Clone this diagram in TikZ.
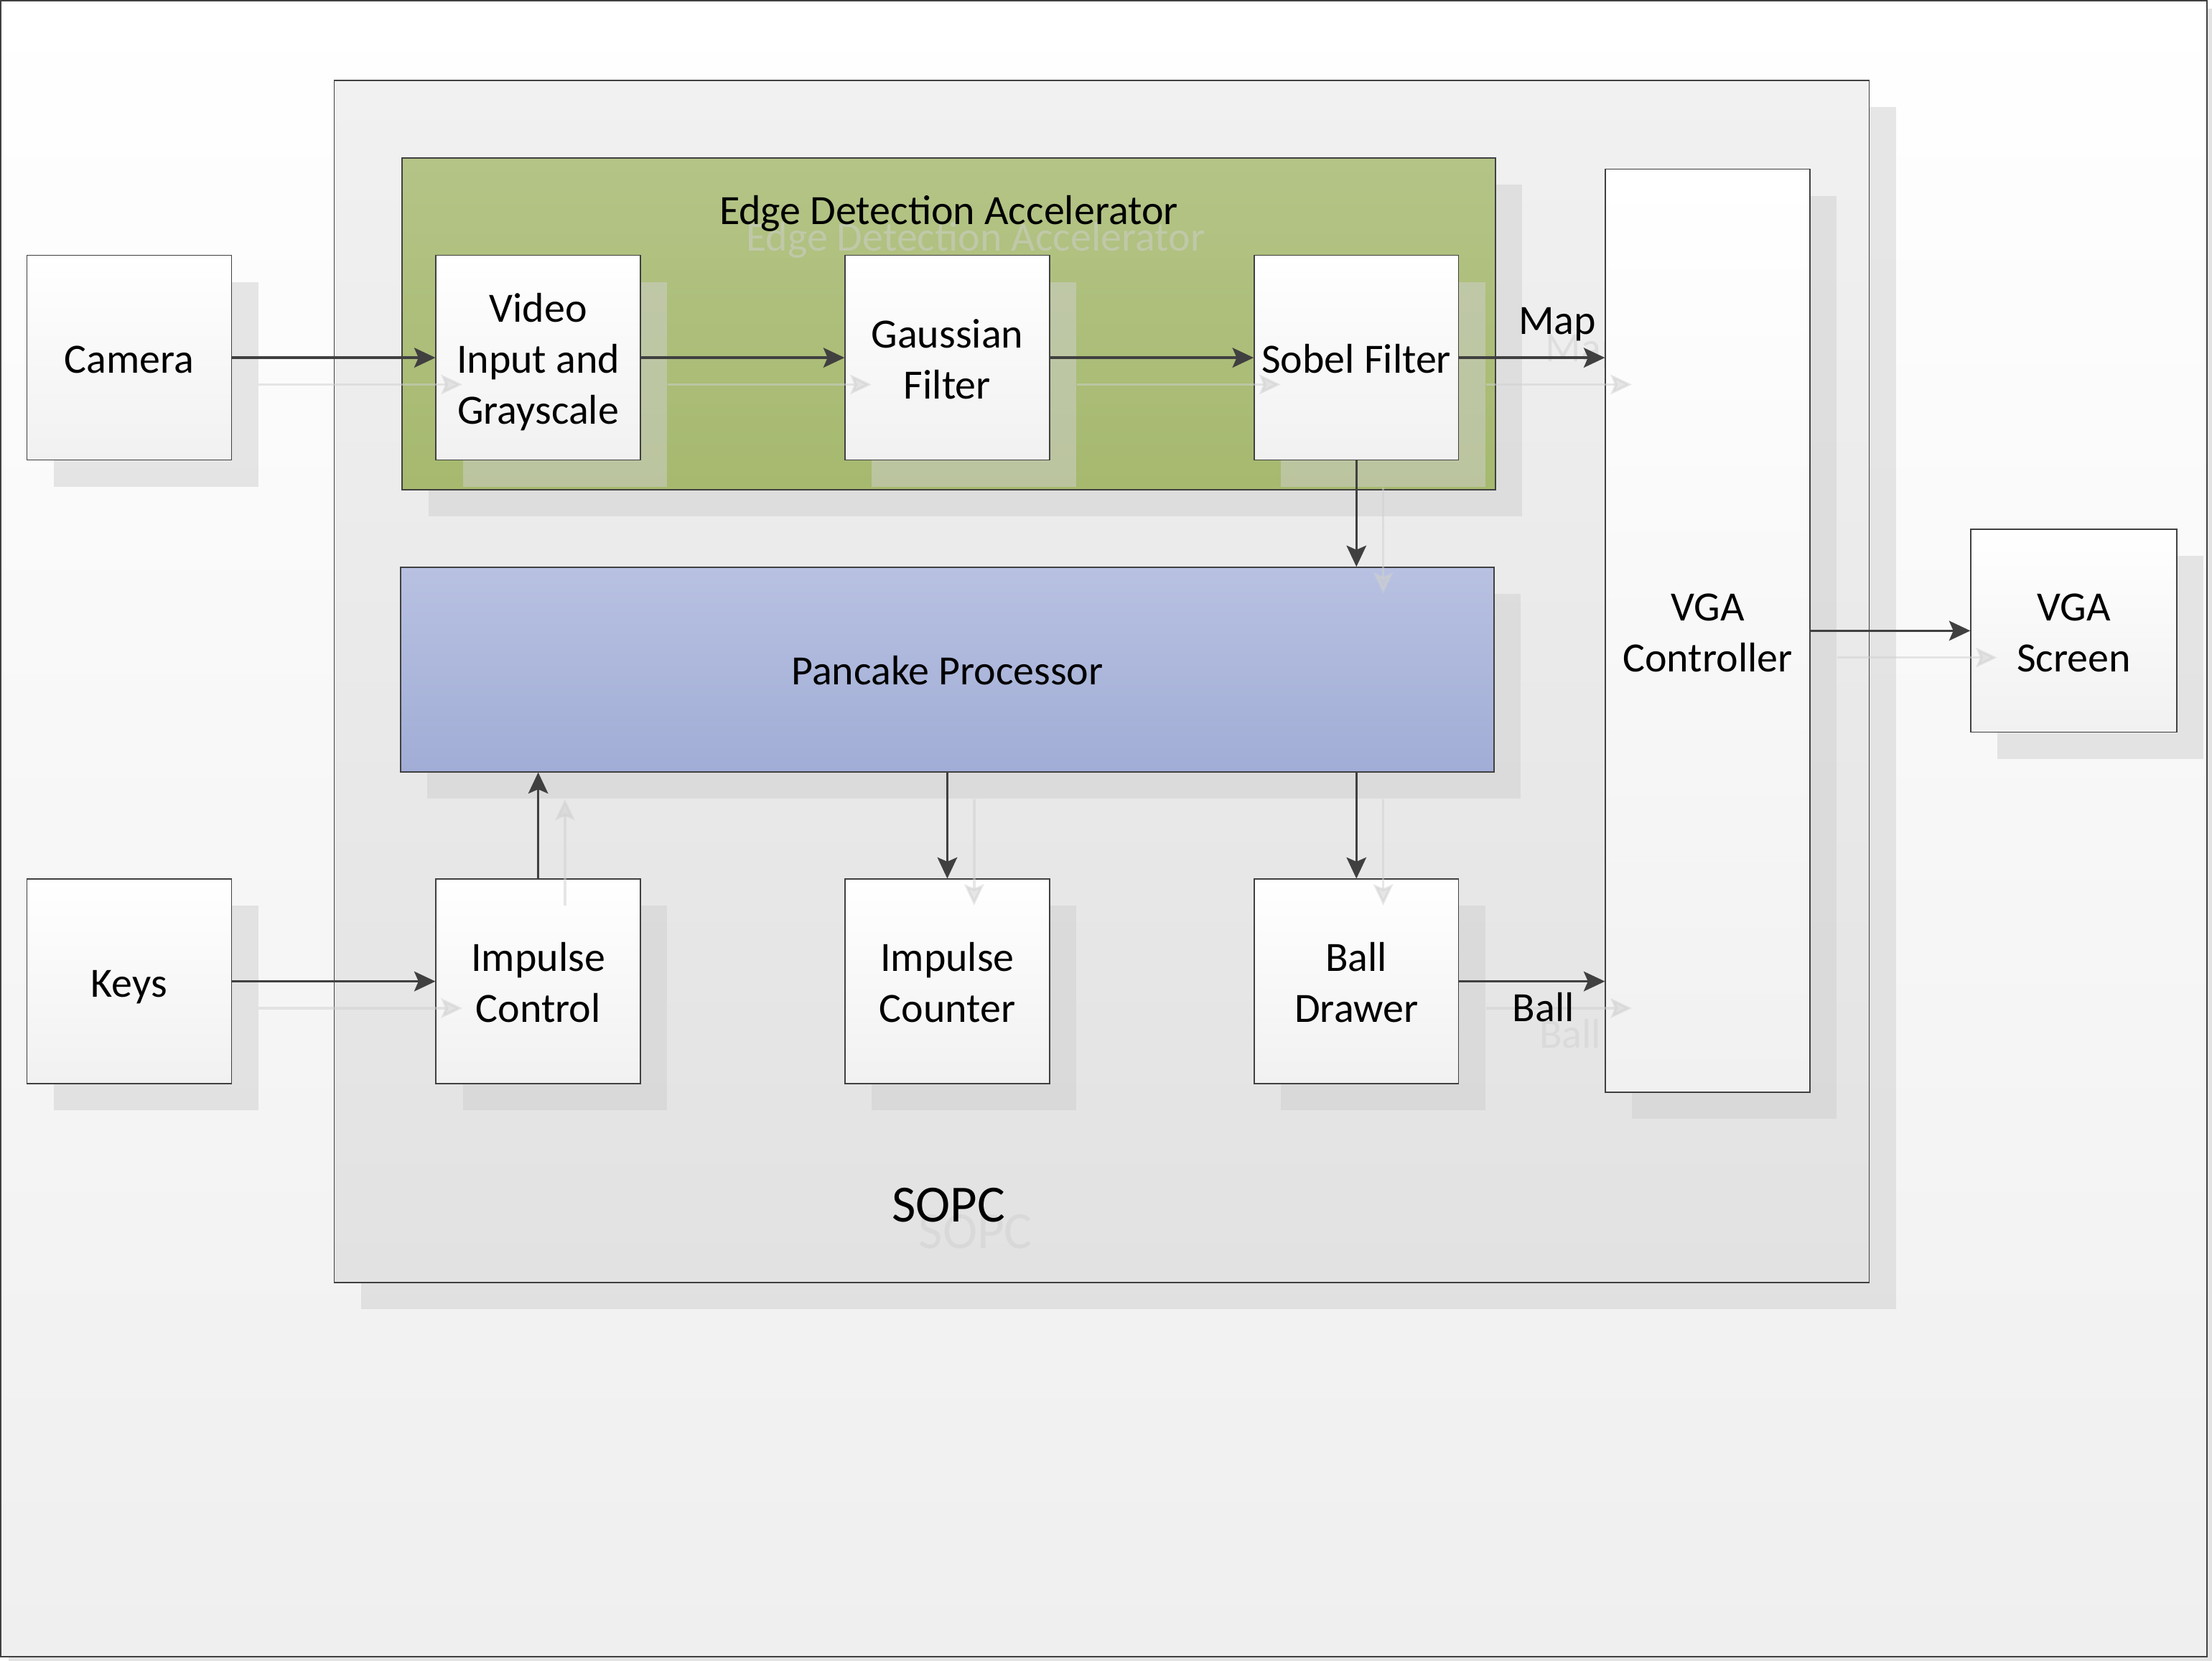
\documentclass[tikz,border=0pt]{standalone}
\usepackage{fontspec}
\setmainfont{Carlito}
\usetikzlibrary{arrows.meta, positioning, shadows}
\definecolor{edgegray}{HTML}{404040}
\definecolor{shadowgray}{HTML}{D0D0D0}
\definecolor{greentop}{HTML}{B4C487}
\definecolor{greenbot}{HTML}{A6B96E}
\definecolor{bluetop}{HTML}{B8C1E1}
\definecolor{bluebot}{HTML}{A1ADD6}
\definecolor{sopctop}{HTML}{F1F1F1}
\definecolor{sopcbot}{HTML}{E2E2E2}
\definecolor{boxbot}{HTML}{F1F1F1}
\definecolor{pagebot}{HTML}{EFEFEF}
\newcommand{\topstrut}{\rule{0pt}{29pt}}
\newcommand{\botstrut}{\rule[-7pt]{0pt}{7pt}}
\tikzstyle{vshadow} = [drop shadow={shadow xshift=19pt, shadow yshift=-19pt, fill=shadowgray, opacity=0.5}]
\tikzstyle{block} = [rectangle, minimum width=145pt, minimum height=145pt, inner sep=0pt, align=center, draw=edgegray, line width=0.7pt, top color=white, bottom color=boxbot, vshadow, font=\fontsize{29.5}{36}\selectfont, execute at begin node=\topstrut, execute at end node=\botstrut]
\tikzstyle{container} = [rectangle, inner sep=0pt, draw=edgegray, line width=0.7pt, vshadow]
\tikzstyle{lbl} = [inner sep=0pt, font=\fontsize{29.5}{36}\selectfont, execute at begin node=\topstrut, execute at end node=\botstrut]
\tikzstyle{ghosttext} = [text=shadowgray, text opacity=0.5, xshift=19pt, yshift=-19pt]
\tikzstyle{arrow} = [line width=1.8pt, draw=edgegray, -{Stealth[length=15pt, width=14pt, inset=3pt]}]
\tikzstyle{ghostarrow} = [arrow, draw=shadowgray, opacity=0.5]

\begin{document}
\begin{tikzpicture}[x=1pt, y=-1pt, node distance=290pt]
\useasboundingbox (0,0) rectangle (1568,1177);
% page
\fill [shadowgray!60] (6,6) rectangle (1568,1177);
\draw [draw=edgegray, line width=0.8pt, top color=white, bottom color=pagebot] (0.5,0.5) rectangle (1564.5,1174);

% containers
\node (sopc) [container, minimum width=1088pt, minimum height=852pt, top color=sopctop, bottom color=sopcbot] at (781,483) {};
\node (sopcghost) [lbl, ghosttext, font=\fontsize{37}{44}\selectfont] at (672.5,855) {SOPC};
\node (sopclabel) [lbl, font=\fontsize{37}{44}\selectfont] at (672.5,855) {SOPC};
\node (edge) [container, minimum width=775pt, minimum height=235pt, top color=greentop, bottom color=greenbot] at (672.5,229.5) {};
\node (edgeghost) [lbl, ghosttext] at (672.5,148) {Edge Detection Accelerator};
\node (edgelabel) [lbl] at (672.5,148) {Edge Detection Accelerator};

% blocks
\node (camera) [block] at (91.5,253.5) {Camera};
\node (video) [block, right of=camera] {\topstrut Video\\Input and\\Grayscale};
\node (gauss) [block, right of=video] {\topstrut Gaussian\\Filter};
\node (sobel) [block, right of=gauss] {Sobel Filter};
\node (keys) [block, below of=camera, yshift=-152pt] {Keys};
\node (impctrl) [block, right of=keys] {\topstrut Impulse\\Control};
\node (impcnt) [block, right of=impctrl] {\topstrut Impulse\\Counter};
\node (ball) [block, right of=impcnt] {\topstrut Ball\\Drawer};
\node (pancake) [block, minimum width=775pt, top color=bluetop, bottom color=bluebot, below of=gauss, yshift=69pt] {Pancake Processor};
\node (mapghost) [lbl, ghosttext] at (1104,226) {Map};
\node (ballghost) [lbl, ghosttext] at (1094,713) {Ball};
\node (vgactrl) [block, minimum height=654pt, right of=sobel, xshift=-41pt, yshift=-193.5pt] {\topstrut VGA\\Controller};
\node (vgascreen) [block, minimum width=146pt, minimum height=144pt, right of=vgactrl, xshift=-30.5pt] {\topstrut VGA\\Screen};

% shadows of the connectors
\begin{scope}[transform canvas={shift={(19pt,-19pt)}}]
\draw [ghostarrow] (camera) -- (video);
\draw [ghostarrow] (video) -- (gauss);
\draw [ghostarrow] (gauss) -- (sobel);
\draw [ghostarrow] (sobel) -- (sobel -| vgactrl.west);
\draw [ghostarrow] (sobel) -- (sobel |- pancake.north);
\draw [ghostarrow] (impctrl) -- (impctrl |- pancake.south);
\draw [ghostarrow] (pancake.south -| impcnt) -- (impcnt);
\draw [ghostarrow] (pancake.south -| ball) -- (ball);
\draw [ghostarrow] (keys) -- (impctrl);
\draw [ghostarrow] (ball) -- (ball -| vgactrl.west);
\draw [ghostarrow] (vgactrl) -- (vgascreen);
\end{scope}

% connectors
\draw [arrow] (camera) -- (video);
\draw [arrow] (video) -- (gauss);
\draw [arrow] (gauss) -- (sobel);
\draw [arrow] (sobel) -- (sobel -| vgactrl.west);
\draw [arrow] (sobel) -- (sobel |- pancake.north);
\draw [arrow] (impctrl) -- (impctrl |- pancake.south);
\draw [arrow] (pancake.south -| impcnt) -- (impcnt);
\draw [arrow] (pancake.south -| ball) -- (ball);
\draw [arrow] (keys) -- (impctrl);
\draw [arrow] (ball) -- (ball -| vgactrl.west);
\draw [arrow] (vgactrl) -- (vgascreen);

\node (maplabel) [lbl] at (1104,226) {Map};
\node (balllabel) [lbl] at (1094,713) {Ball};
\end{tikzpicture}
\end{document}
